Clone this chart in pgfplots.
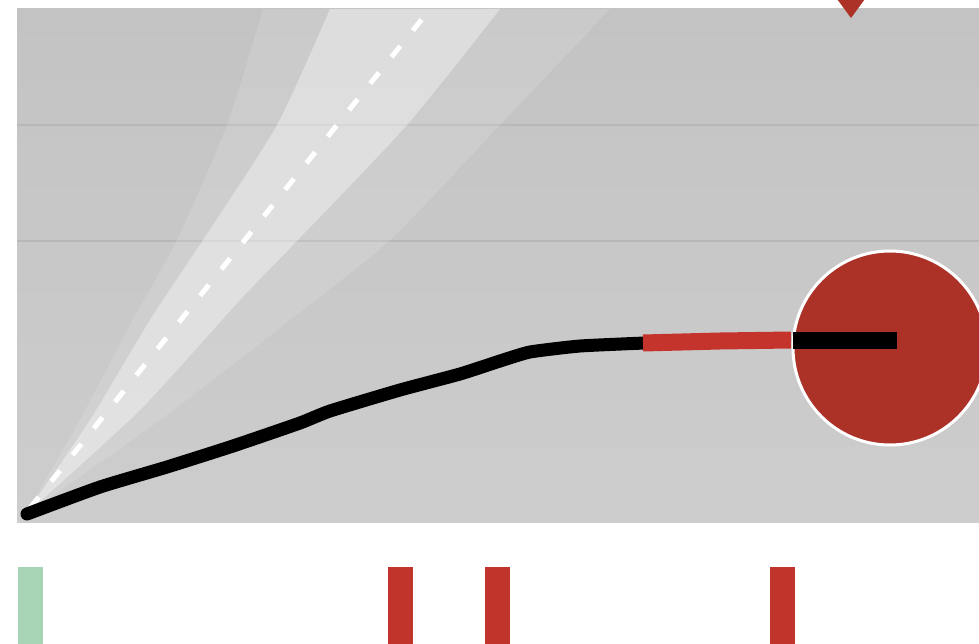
\documentclass[border=0pt]{standalone}
\usepackage{pgfplots}
\pgfplotsset{compat=1.18}
\definecolor{bgtop}{RGB}{195,195,195}
\definecolor{bgbot}{RGB}{205,205,205}
\definecolor{gridc}{RGB}{184,184,184}
\definecolor{dotred}{RGB}{172,49,39}
\definecolor{segred}{RGB}{196,52,44}
\definecolor{tickred}{RGB}{193,52,44}
\definecolor{tickgreen}{RGB}{166,212,180}
\begin{document}
\begin{tikzpicture}
\begin{axis}[scale only axis, width=979pt, height=644pt,
  xmin=0, xmax=979, ymin=0, ymax=644, y dir=reverse,
  hide axis, clip=true, clip marker paths=true]
% page background
\addplot[fill=white, draw=none] coordinates {(0,0) (979,0) (979,644) (0,644)} --cycle;
% plot area
\addplot[draw=none, top color=bgtop, bottom color=bgbot] coordinates {(17,9) (979,9) (979,522) (17,522)} --cycle;
% grid lines
\addplot[gridc, line width=2.5pt] coordinates {(17,125) (979,125)};
\addplot[gridc, line width=2.5pt] coordinates {(17,241) (979,241)};
% outer fan
\addplot[fill=white, fill opacity=0.13, draw=none, smooth, tension=0.4] coordinates {
 (25,515) (80,420) (130,325) (177,240) (227,125) (263,9)} --
 plot[smooth, tension=0.4] coordinates {(610,9) (500,125) (390,240) (290,320) (160,420) (25,515)} --cycle;
% inner fan
\addplot[fill=white, fill opacity=0.36, draw=none, smooth, tension=0.4] coordinates {
 (25,515) (90,420) (150,320) (203,240) (277,125) (330,9)} --
 plot[smooth, tension=0.4] coordinates {(500,9) (407,125) (293,245) (240,300) (140,410) (25,515)} --cycle;
% dashed reference line
\addplot[white, line width=5pt, dash pattern=on 14pt off 20pt] coordinates {(30,508) (430,9)};
% main path
\addplot[black, line width=13pt, line cap=round, smooth, tension=0.3] coordinates {
 (27,514) (100,487) (167,467) (233,446) (300,423) (330,411) (400,390)
 (460,374) (500,361) (530,352) (580,346) (645,343)};
\addplot[segred, line width=17pt] coordinates {(643,343) (720,341) (791,340)};
% big dot
\addplot[only marks, mark=*, mark size=97pt, mark options={fill=dotred, draw=white, line width=3pt}] coordinates {(890,348)};
\addplot[black, line width=17pt] coordinates {(793,340) (897,340)};
% triangle at top
\addplot[fill=dotred, draw=none] coordinates {(829,-12) (873,-12) (851,18)} --cycle;
% bottom ticks
\addplot[fill=tickgreen, draw=none] coordinates {(18,567) (43,567) (43,644) (18,644)} --cycle;
\addplot[fill=tickred, draw=none] coordinates {(388,567) (413,567) (413,644) (388,644)} --cycle;
\addplot[fill=tickred, draw=none] coordinates {(485,567) (510,567) (510,644) (485,644)} --cycle;
\addplot[fill=tickred, draw=none] coordinates {(770,567) (795,567) (795,644) (770,644)} --cycle;
\end{axis}
\end{tikzpicture}
\end{document}
